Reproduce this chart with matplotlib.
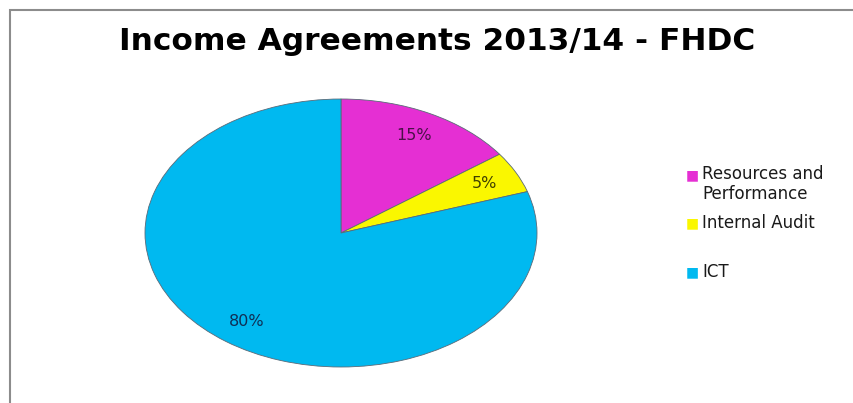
import matplotlib
matplotlib.use("Agg")
import matplotlib.pyplot as plt
from matplotlib.patches import Rectangle

# data
categories = ["Resources and\nPerformance", "Internal Audit", "ICT"]
shares = [15, 5, 80]
colors = ["#E52FD3", "#FAF700", "#00B9F0"]
pct_colors = ["#4A1048", "#404000", "#0F2F55"]

plt.rcParams['font.family'] = ['DejaVu Sans']

W, H = 854, 403
fig = plt.figure(figsize=(W / 100, H / 100), dpi=100)

# gray frame of the chart area
fig.patches.append(Rectangle((10 / W, -0.05), 1.0, (403 - 10) / H + 0.05,
                             transform=fig.transFigure, fill=False,
                             edgecolor="#8C8C8C", linewidth=1.5))

fig.text(437 / W, 1 - 42 / H, "Income Agreements 2013/14 - FHDC",
         ha="center", va="center", fontsize=22.5, fontweight="bold", color="black")

# pie drawn in a squashed axes -> elliptical look
cx, cy, rx, ry = 341, 233, 196, 134
ax = fig.add_axes([(cx - rx) / W, 1 - (cy + ry) / H, 2 * rx / W, 2 * ry / H])
wedges, texts, autotexts = ax.pie(
    shares, colors=colors, startangle=90, counterclock=False,
    autopct="%1.0f%%", pctdistance=0.82, radius=1,
    wedgeprops=dict(edgecolor="#5A6A78", linewidth=0.6),
    textprops=dict(fontsize=11.5))
for t, c in zip(autotexts, pct_colors):
    t.set_color(c)
ax.set_aspect("auto")
ax.set_xlim(-1, 1)
ax.set_ylim(-1, 1)
ax.axis("off")

# legend, entries placed like the original
legend_y = [184, 223, 272]
for lab, col, y in zip(categories, colors, legend_y):
    fig.text(692 / W, 1 - (y if "\n" not in lab else 175) / H, "\u25A0",
             ha="center", va="center", fontsize=10, color=col)
    fig.text(702 / W, 1 - y / H, lab, ha="left", va="center",
             fontsize=12, color="#1A1A1A", linespacing=1.15)

fig.savefig("out.png", dpi=100)
